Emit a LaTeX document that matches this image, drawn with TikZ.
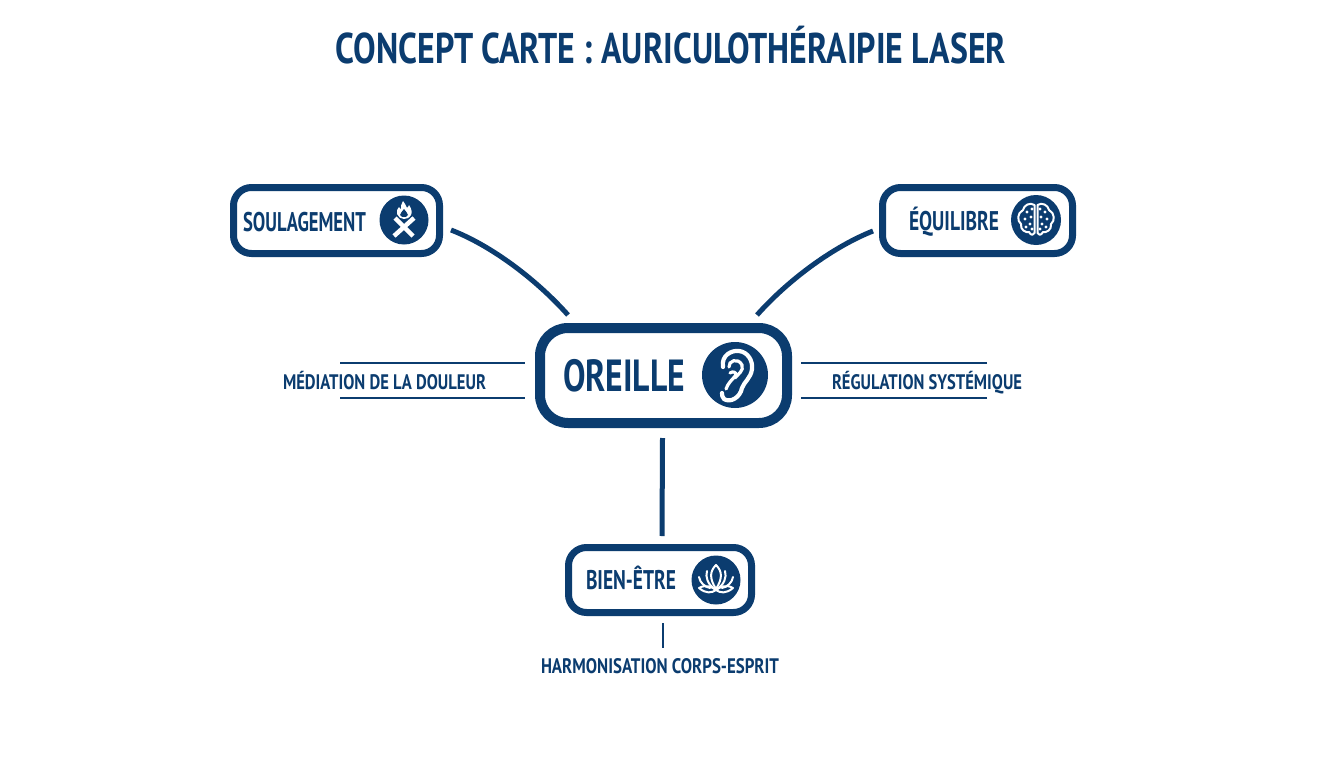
\documentclass[tikz,border=0pt]{standalone}
\usepackage{fontspec}
\setmainfont{PT Sans}
\definecolor{navy}{HTML}{0B3C6F}
\newcommand{\fitw}[3]{\fontsize{#2}{#2}\selectfont\bfseries\resizebox{#1}{\height}{#3}}
\tikzset{
  box/.style={draw=navy,fill=white,rounded corners=18pt,inner sep=0pt},
  lab/.style={text=navy,inner sep=0pt,anchor=base},
  disc/.style={circle,fill=navy,inner sep=0pt},
  conn/.style={draw=navy,line width=5pt},
  thin line/.style={draw=navy,line width=1.8pt},
  ico/.style={draw=white,line width=2pt,line cap=round,line join=round}
}
\begin{document}
\begin{tikzpicture}[x=1pt,y=-1pt]
\useasboundingbox[fill=white] (0,0) rectangle (1344,768);
% title
\node[lab] (title) at (671,63.5) {\fitw{670pt}{43pt}{CONCEPT CARTE : AURICULOTHÉRAIPIE LASER}};
% boxes
\node[box,line width=7pt,minimum width=206pt,minimum height=66pt] (soul) at (336.5,220.5) {};
\node[box,line width=7pt,minimum width=190pt,minimum height=66pt] (equi) at (977.5,220.5) {};
\node[box,line width=10pt,rounded corners=28pt,minimum width=247pt,minimum height=95pt] (ore) at (663.5,375.5) {};
\node[box,line width=7pt,minimum width=183pt,minimum height=65pt] (bien) at (660,580) {};
% box texts
\node[lab] (soult) at (304.5,231) {\fitw{123pt}{27pt}{SOULAGEMENT}};
\node[lab] (equit) at (954,230.5) {\fitw{90pt}{27pt}{ÉQUILIBRE}};
\node[lab] (oret) at (624,391.5) {\fitw{122pt}{45pt}{OREILLE}};
\node[lab] (bient) at (631,589.5) {\fitw{90pt}{27pt}{BIEN-ÊTRE}};
% side labels
\node[lab] (med) at (384.5,389) {\fitw{203pt}{21pt}{MÉDIATION DE LA DOULEUR}};
\node[lab] (reg) at (927,389) {\fitw{190pt}{21pt}{RÉGULATION SYSTÉMIQUE}};
\node[lab] (har) at (660,673) {\fitw{238pt}{21pt}{HARMONISATION CORPS-ESPRIT}};
% connectors
\draw[conn] ([shift={(8,9.5)}]soul.east) .. controls (490,245) and (535,278) .. ([shift={(-95.5,-8)}]ore.north);
\draw[conn] ([shift={(-6,10.5)}]equi.west) .. controls (835,246) and (790,278) .. ([shift={(93.5,-8)}]ore.north);
\draw[conn] ([shift={(-1,10)}]ore.south) -- ([shift={(2,-8)}]bien.north);
\draw[thin line] ([shift={(3,7)}]bien.south) -- ([shift={(3,32)}]bien.south);
% side rules
\coordinate (ml1) at (340,363); \coordinate (ml2) at (340,398);
\coordinate (mr1) at (987,363); \coordinate (mr2) at (987,398);
\draw[thin line] (ml1) -- ([shift={(-10,-12.5)}]ore.west);
\draw[thin line] (ml2) -- ([shift={(-10,22.5)}]ore.west);
\draw[thin line] (mr1) -- ([shift={(9,-12.5)}]ore.east);
\draw[thin line] (mr2) -- ([shift={(9,22.5)}]ore.east);
% icon discs
\node[disc,minimum size=49pt] (isoul) at (404,220) {};
\node[disc,minimum size=50pt] (iequi) at (1036,220) {};
\node[disc,minimum size=66pt] (iore) at (735,375) {};
\node[disc,minimum size=49pt] (ibien) at (716,580) {};
% fire and crossed logs
\begin{scope}[shift={(404,220)}]
  \draw[white,line width=4.5pt] (-10,16) -- (10,-2);
  \draw[white,line width=4.5pt] (-9,-2) -- (9,16);
  \fill[white] (-1,-19) .. controls (0,-16) and (3,-15) .. (3,-12) .. controls (4,-13) and (5,-14) .. (5,-15)
     .. controls (8,-11) and (8,-7) .. (7,-5) .. controls (5,-2) and (3,-1) .. (0,-1)
     .. controls (-3,-1) and (-6,-3) .. (-7,-6) .. controls (-8,-9) and (-6,-12) .. (-5,-13)
     .. controls (-4,-12) and (-4,-11) .. (-3,-11) .. controls (-3,-14) and (-3,-16) .. (-1,-19) -- cycle;
  \fill[navy] (0,-11) .. controls (1,-9) and (4,-7) .. (4,-5) .. controls (3,-3) and (1,-3) .. (0,-3)
     .. controls (-1,-3) and (-3,-3) .. (-4,-5) .. controls (-4,-7) and (-1,-9) .. (0,-11) -- cycle;
\end{scope}
% brain
\begin{scope}[shift={(1036,220)}]
  \draw[ico] (-1.5,-15) .. controls (-6,-18) and (-12,-15) .. (-13,-10) .. controls (-19,-7) and (-19,1) .. (-15,4)
     .. controls (-16,10) and (-10,13) .. (-7,12) .. controls (-5,16) and (-2,15) .. (-1.5,13) -- cycle;
  \draw[ico] (1.5,-15) .. controls (6,-18) and (12,-15) .. (13,-10) .. controls (19,-7) and (19,1) .. (15,4)
     .. controls (16,10) and (10,13) .. (7,12) .. controls (5,16) and (2,15) .. (1.5,13) -- cycle;
  \foreach \p in {(-9,-8),(-5,-3),(-11,-1),(-6,4),(-10,7),(-4,9),(9,-8),(5,-3),(11,-1),(6,4),(10,7),(4,9),(-4,-11),(4,-11)}
    \fill[white] \p circle (1.6pt);
\end{scope}
% ear
\begin{scope}[shift={(735,375)}]
  \draw[white,line width=4.2pt,line cap=round,line join=round] (-12,-8) .. controls (-14,-20) and (-3,-25) .. (4,-24)
     .. controls (13,-23) and (18,-14) .. (17,-6) .. controls (16,3) and (9,7) .. (7,13)
     .. controls (5,23) and (-5,28) .. (-11,24) .. controls (-13,22) and (-13,20) .. (-13,18);
  \draw[white,line width=3.2pt,line cap=round] (-6,-8) .. controls (-7,-14) and (3,-18) .. (7,-10)
     .. controls (9,-4) and (3,-1) .. (0,3);
  \draw[white,line width=3.2pt,line cap=round] (-5,-2) .. controls (-2,-4) and (1,-3) .. (1,0)
     .. controls (-3,5) and (-7,8) .. (-9,14);
\end{scope}
% lotus
\begin{scope}[shift={(716,580)}]
  \draw[ico] (0,-15) .. controls (-6,-9) and (-7,-2) .. (0,9) .. controls (7,-2) and (6,-9) .. (0,-15) -- cycle;
  \draw[ico] (-9,-9) .. controls (-11,-3) and (-8,5) .. (-1,9);
  \draw[ico] (9,-9) .. controls (11,-3) and (8,5) .. (1,9);
  \draw[ico] (-17,-3) .. controls (-16,3) and (-11,7) .. (-6,8);
  \draw[ico] (17,-3) .. controls (16,3) and (11,7) .. (6,8);
  \draw[ico] (-17,8) .. controls (-10,4) and (-4,7) .. (0,10) .. controls (4,7) and (10,4) .. (17,8) .. controls (10,14) and (4,13) .. (0,10) .. controls (-4,13) and (-10,14) .. (-17,8) -- cycle;
\end{scope}
\end{tikzpicture}
\end{document}
